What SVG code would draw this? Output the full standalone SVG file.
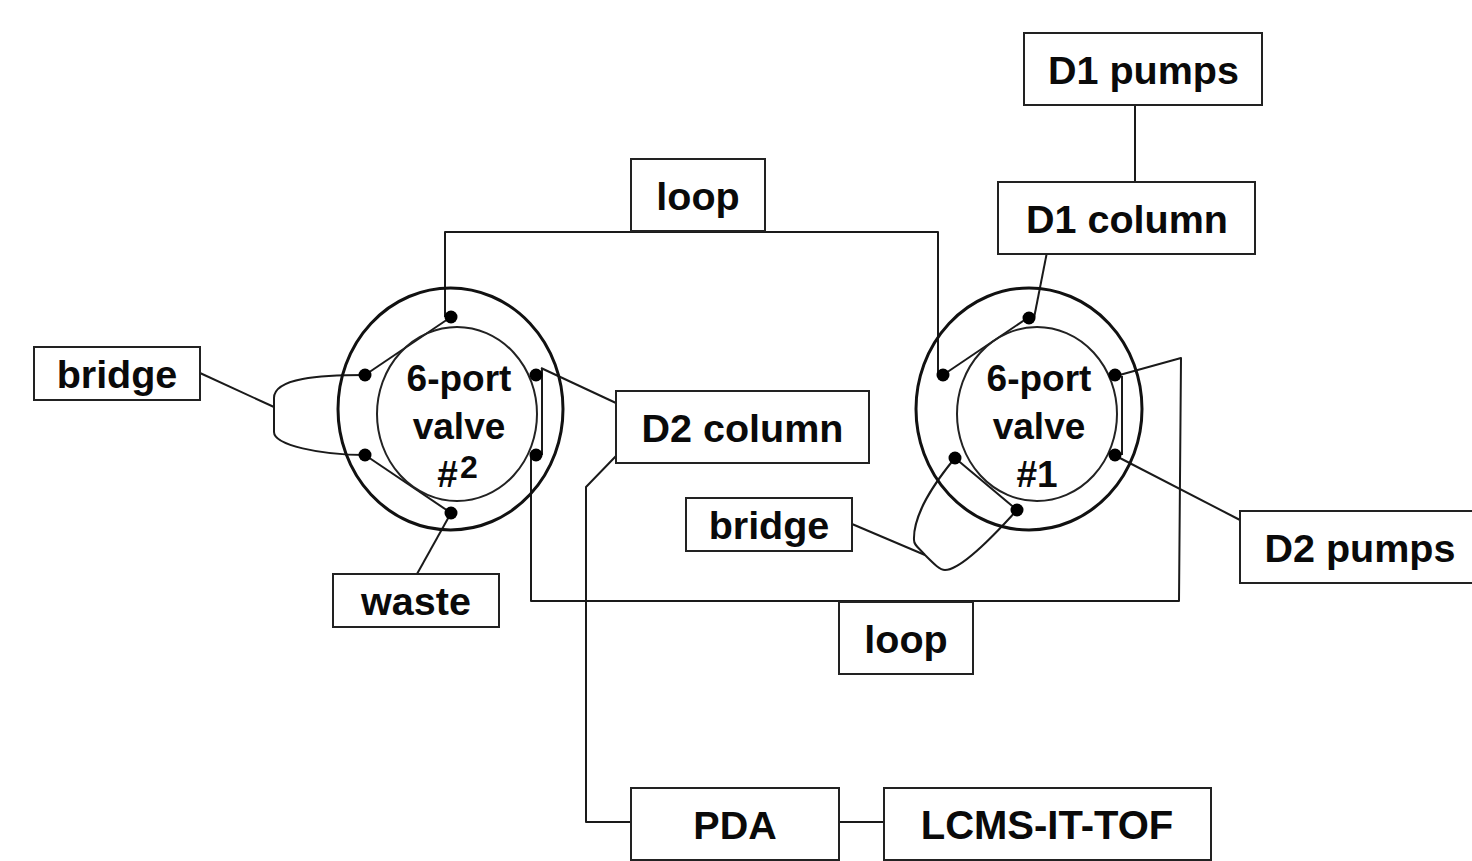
<svg xmlns="http://www.w3.org/2000/svg" width="1472" height="861" viewBox="0 0 1472 861">
<style>
.b{fill:#fff;stroke:#222;stroke-width:2}
.t{font-family:"Liberation Sans",Arial,sans-serif;font-weight:700;font-size:39.500px;fill:#0a0a0a;text-anchor:middle}
.v{font-size:37px}
.c{fill:none;stroke:#1a1a1a;stroke-width:2;stroke-linejoin:round}
.o{fill:none;stroke:#111;stroke-width:3}
.i{fill:none;stroke:#222;stroke-width:2}
.p{fill:#000}
</style>
<rect width="1472" height="861" fill="#fff"/>
<g id="connectors">
<path class="c" d="M1135 105V182"/>
<path class="c" d="M445 317V232H938V375"/>
<path class="c" d="M1048 247L1034 318"/>
<path class="c" d="M200 373L274 407"/>
<path class="c" d="M365 375C320 375 274 378 274 398V432C274 445 320 455 365 455"/>
<path class="c" d="M451 317L365 375"/>
<path class="c" d="M365 455L451 513"/>
<path class="c" d="M451 513L417 574"/>
<path class="c" d="M541 368L616 403"/>
<path class="c" d="M542 368V455"/>
<path class="c" d="M531 455V601H1179L1181 358L1116 376"/>
<path class="c" d="M1122 376V455"/>
<path class="c" d="M1029 317L943 375"/>
<path class="c" d="M955 458L1017 510"/>
<path class="c" d="M955 458C935 482 913 515 914 540C914 545 918 547 925 555C935 565 940 570 945 570C960 570 990 540 1017 510"/>
<path class="c" d="M852 524L925 555"/>
<path class="c" d="M1116 456L1240 520"/>
<path class="c" d="M616 456L586 487V822H631"/>
<path class="c" d="M839 822H884"/>
</g>
<g id="valve2">
<ellipse class="o" cx="450.5" cy="409" rx="112.5" ry="121"/>
<ellipse class="i" cx="457" cy="414" rx="80" ry="87"/>
<circle class="p" cx="451" cy="317" r="6.500"/><circle class="p" cx="365" cy="375" r="6.500"/><circle class="p" cx="365" cy="455" r="6.500"/><circle class="p" cx="451" cy="513" r="6.500"/><circle class="p" cx="536" cy="375" r="6.500"/><circle class="p" cx="536" cy="455" r="6.500"/>
<text class="t v" x="459" y="391">6-port</text>
<text class="t v" x="459" y="439">valve</text>
<text class="t v" x="447.500" y="487">#</text>
<text class="t" x="469" y="478" style="font-size:32px">2</text>
</g>
<g id="valve1">
<ellipse class="o" cx="1029" cy="409" rx="113" ry="121"/>
<ellipse class="i" cx="1037" cy="414" rx="80" ry="87"/>
<circle class="p" cx="1029" cy="318" r="6.500"/><circle class="p" cx="943" cy="375" r="6.500"/><circle class="p" cx="955" cy="458" r="6.500"/><circle class="p" cx="1017" cy="510" r="6.500"/><circle class="p" cx="1115" cy="375" r="6.500"/><circle class="p" cx="1115" cy="455" r="6.500"/>
<text class="t v" x="1039" y="391">6-port</text>
<text class="t v" x="1039" y="439">valve</text>
<text class="t v" x="1037" y="487">#1</text>
</g>
<g id="d1pumps"><rect class="b" x="1024" y="33" width="238" height="72"/><text class="t" x="1143.500" y="84">D1 pumps</text></g>
<g id="d1column"><rect class="b" x="998" y="182" width="257" height="72"/><text class="t" x="1127" y="233">D1 column</text></g>
<g id="loop1"><rect class="b" x="631" y="159" width="134" height="72"/><text class="t" x="698" y="210">loop</text></g>
<g id="bridge2"><rect class="b" x="34" y="347" width="166" height="53"/><text class="t" x="117" y="388">bridge</text></g>
<g id="d2column"><rect class="b" x="616" y="391" width="253" height="72"/><text class="t" x="742.500" y="442">D2 column</text></g>
<g id="bridge1"><rect class="b" x="686" y="498" width="166" height="53"/><text class="t" x="769" y="539">bridge</text></g>
<g id="waste"><rect class="b" x="333" y="574" width="166" height="53"/><text class="t" x="416" y="615">waste</text></g>
<g id="d2pumps"><rect class="b" x="1240" y="511" width="240" height="72"/><text class="t" x="1360" y="562">D2 pumps</text></g>
<g id="loop2"><rect class="b" x="839" y="602" width="134" height="72"/><text class="t" x="906" y="653">loop</text></g>
<g id="pda"><rect class="b" x="631" y="788" width="208" height="72"/><text class="t" x="735" y="839">PDA</text></g>
<g id="lcms"><rect class="b" x="884" y="788" width="327" height="72"/><text class="t" x="1047" y="839" style="font-size:40px">LCMS-IT-TOF</text></g>
</svg>
